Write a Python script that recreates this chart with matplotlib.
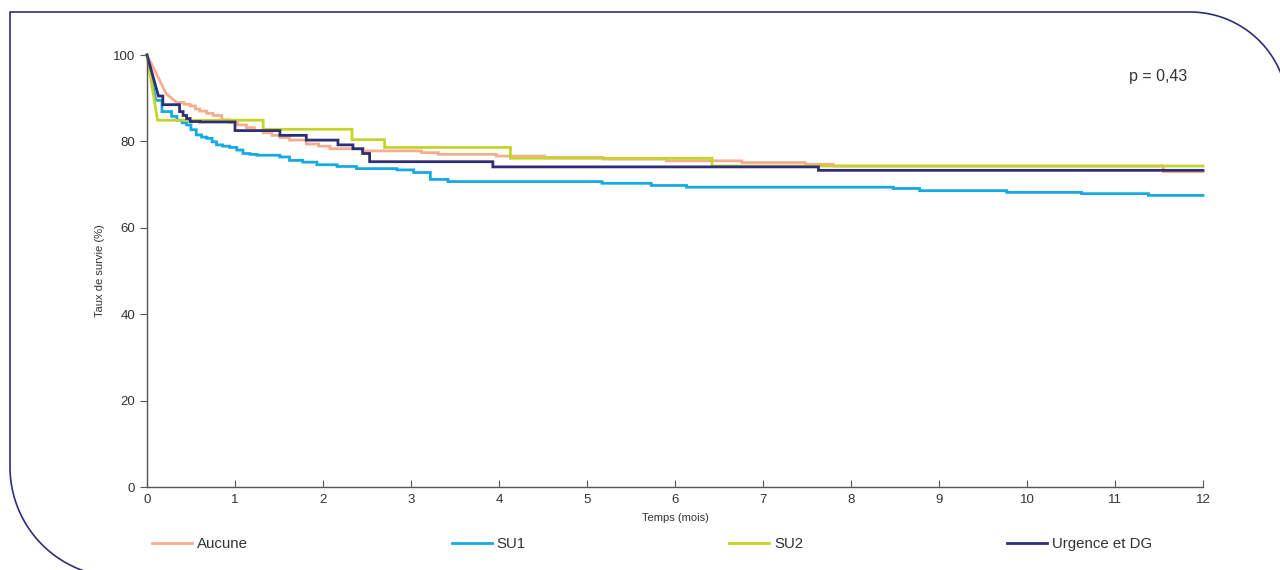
import numpy as np
import matplotlib.pyplot as plt

plt.rcParams['font.family'] = ['Liberation Sans', 'DejaVu Sans']

# survival curves (months, % surviving)
# lead_* : steep early descent drawn as straight segments, then steps
lead_t_aucune = [0, 0.11, 0.22, 0.34]
lead_s_aucune = [100, 95.5, 91, 89]
t_aucune = [0.34, 0.42, 0.49, 0.55, 0.6, 0.68, 0.75, 0.85,
            0.94, 1.03, 1.13, 1.22, 1.32, 1.42, 1.51, 1.62, 1.81, 1.95, 2.08, 2.46, 3.12,
            3.31, 3.97, 4.52, 5.18, 5.9, 6.76, 7.48, 7.8, 11.55, 12]
s_aucune = [89, 88.6, 88.2, 87.5, 87, 86.5, 86, 85,
            84.4, 83.8, 83.2, 82.5, 82, 81.4, 80.9, 80.3, 79.4, 78.9, 78.3, 77.8, 77.4,
            77.0, 76.6, 76.3, 75.9, 75.5, 75.1, 74.7, 74.3, 73.0, 73.0]

lead_t_su1 = [0, 0.1]
lead_s_su1 = [100, 89.5]
t_su1 = [0.1, 0.17, 0.28, 0.34, 0.4, 0.45, 0.5, 0.56, 0.62, 0.68, 0.74, 0.79,
         0.86, 0.94, 1.02, 1.09, 1.17, 1.25, 1.51, 1.62, 1.77, 1.93, 2.16, 2.38, 2.84,
         3.03, 3.22, 3.42, 5.17, 5.73, 6.13, 8.48, 8.78, 9.77, 10.62, 11.38, 12]
s_su1 = [89.5, 86.9, 85.8, 84.9, 84.3, 83.8, 82.7, 81.5, 81.0, 80.7, 79.9, 79.2,
         78.9, 78.6, 78.0, 77.2, 77.0, 76.8, 76.4, 75.6, 75.2, 74.6, 74.2, 73.7, 73.4,
         72.8, 71.2, 70.7, 70.3, 69.8, 69.4, 69.1, 68.6, 68.2, 67.9, 67.5, 67.5]

lead_t_su2 = [0, 0.12]
lead_s_su2 = [100, 84.9]
t_su2 = [0.12, 1.32, 2.33, 2.7, 4.13, 6.42, 12]
s_su2 = [84.9, 82.8, 80.4, 78.6, 76.1, 74.3, 74.3]

lead_t_urg = [0, 0.13]
lead_s_urg = [100, 90.5]
t_urg = [0.13, 0.18, 0.37, 0.41, 0.45, 0.49, 0.6, 1.0, 1.51, 1.81, 2.17,
         2.34, 2.45, 2.53, 3.93, 7.63, 12]
s_urg = [90.5, 88.5, 86.9, 86.0, 85.3, 84.6, 84.5, 82.5, 81.4, 80.3, 79.2,
         78.3, 77.2, 75.3, 74.1, 73.3, 73.3]

labels = ['Aucune', 'SU1', 'SU2', 'Urgence et DG']
colors = ['#F5AE8D', '#17A9E1', '#C5D42A', '#2E2E78']
x_ticks = list(range(0, 13))
y_ticks = [0, 20, 40, 60, 80, 100]
p_text = 'p = 0,43'


def km_vertices(lt, ls, t, s):
    # straight lead-in, then post-step corners
    xs, ys = list(lt), list(ls)
    for i in range(1, len(t)):
        xs += [t[i], t[i]]
        ys += [s[i - 1], s[i]]
    return xs, ys


fig = plt.figure(figsize=(12.8, 5.7), dpi=100)

# rounded frame in the background
bg = fig.add_axes([0, 0, 1, 1])
bg.set_xlim(0, 1280)
bg.set_ylim(570, 0)
bg.axis('off')
R = 98
th = np.linspace(-np.pi / 2, 0, 60)
top_right = np.c_[1190 + R * np.cos(th), 12 + R + R * np.sin(th)]
right = np.array([[1288, 12 + R], [1288, 600]])
R2 = 110
th2 = np.linspace(np.pi / 2, np.pi, 60)
bot_left = np.c_[120 + R2 * np.cos(th2), 467 + R2 * np.sin(th2)]
frame = np.vstack([bot_left, [[10, 12]], top_right, right])
bg.plot(frame[:, 0], frame[:, 1], color='#2E2E78', lw=1.2, solid_joinstyle='round')

ax = fig.add_axes([147 / 1280, 1 - 487 / 570, (1203 - 147) / 1280, (487 - 55) / 570])
ax.patch.set_alpha(0)

series = [(lead_t_aucune, lead_s_aucune, t_aucune, s_aucune),
          (lead_t_su1, lead_s_su1, t_su1, s_su1),
          (lead_t_su2, lead_s_su2, t_su2, s_su2),
          (lead_t_urg, lead_s_urg, t_urg, s_urg)]
for (lt, ls, t, s), lab, c in zip(series, labels, colors):
    xs, ys = km_vertices(lt, ls, t, s)
    ax.plot(xs, ys, color=c, lw=2.0, label=lab, clip_on=False, solid_joinstyle='miter')

ax.set_xlim(0, 12)
ax.set_ylim(0, 100)
ax.set_xticks(x_ticks)
ax.set_yticks(y_ticks)
for sp in ['top', 'right']:
    ax.spines[sp].set_visible(False)
for sp in ['left', 'bottom']:
    ax.spines[sp].set_color('#555555')
    ax.spines[sp].set_linewidth(1.0)
ax.tick_params(axis='x', direction='in', length=5, color='#555555', labelsize=9.5,
               labelcolor='#333333', pad=5)
ax.tick_params(axis='y', direction='out', length=5, color='#555555', labelsize=9.5,
               labelcolor='#333333')
ax.set_xlabel('Temps (mois)', fontsize=8, color='#333333', labelpad=5)
ax.set_ylabel('Taux de survie (%)', fontsize=8, color='#333333', labelpad=6)

ax.text(11.49, 95.1, p_text, ha='center', va='center', fontsize=11.5, color='#333333')

ax.legend(loc='lower left', bbox_to_anchor=(5 / 1056, -0.148, 1000 / 1056, 0.05),
          ncol=4, mode='expand', frameon=False, fontsize=10.8, handlelength=2.67,
          handletextpad=0.33, borderpad=0, borderaxespad=0, labelcolor='#333333')

fig.savefig('out.png', dpi=100)
